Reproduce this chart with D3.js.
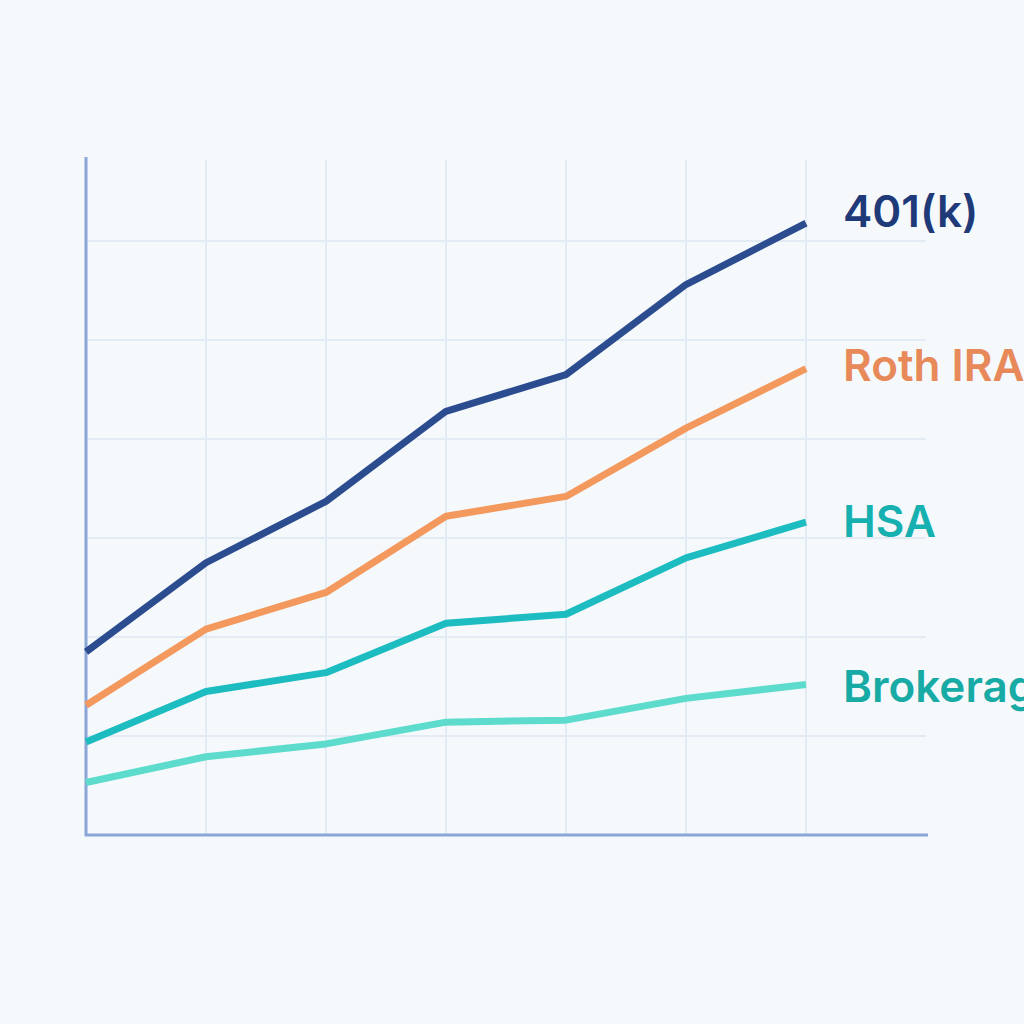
<!DOCTYPE html>
<html><head><meta charset="utf-8">
<script src="https://cdn.jsdelivr.net/npm/d3@7"></script>
<style>body{margin:0;background:#f5f9fc;overflow:hidden}</style>
</head><body><svg id="c" width="1024" height="1024"></svg>
<script>
const periods = [0, 1, 2, 3, 4, 5, 6];
const names = ["401(k)", "Roth IRA", "HSA", "Brokerage"];
const v401k = [1.85, 2.75, 3.37, 4.28, 4.65, 5.56, 6.18];
const vRoth = [1.31, 2.08, 2.45, 3.22, 3.42, 4.11, 4.71];
const vHsa = [0.94, 1.45, 1.64, 2.14, 2.23, 2.80, 3.16];
const vBrok = [0.53, 0.79, 0.92, 1.14, 1.16, 1.38, 1.52];
const yTicks = [1, 2, 3, 4, 5, 6];
const labelShift = [-8, 0, 3, 5];

const lineColors = ["#2b4d8f", "#f4995e", "#1cbcc0", "#5ddccd"];
const textColors = ["#1f3a78", "#e8895a", "#17b0b0", "#18aaa5"];
const series = [v401k, vRoth, vHsa, vBrok];

const svg = d3.select("#c");
const x = d3.scaleLinear().domain([0, 6]).range([86, 806]);
const y = d3.scaleLinear().domain([0, 7]).range([835, 142]);

// grid
svg.append("g").selectAll("line").data(periods.slice(1)).join("line")
  .attr("x1", d => x(d)).attr("x2", d => x(d))
  .attr("y1", 160).attr("y2", 835)
  .attr("stroke", "#e3ebf4").attr("stroke-width", 2);
svg.append("g").selectAll("line").data(yTicks).join("line")
  .attr("x1", 86).attr("x2", 926)
  .attr("y1", d => y(d)).attr("y2", d => y(d))
  .attr("stroke", "#e3ebf4").attr("stroke-width", 2);

// axes
svg.append("line").attr("x1", 86).attr("x2", 86).attr("y1", 157).attr("y2", 836)
  .attr("stroke", "#8aa6d6").attr("stroke-width", 3);
svg.append("line").attr("x1", 85).attr("x2", 928).attr("y1", 835).attr("y2", 835)
  .attr("stroke", "#8aa6d6").attr("stroke-width", 3);

const line = d3.line().x((d, i) => x(periods[i])).y(d => y(d));
series.forEach((s, k) => {
  svg.append("path").datum(s).attr("d", line)
    .attr("fill", "none").attr("stroke", lineColors[k])
    .attr("stroke-width", 7).attr("stroke-linejoin", "round");
  svg.append("text").attr("x", 843).attr("y", y(s[6]) + labelShift[k])
    .attr("dominant-baseline", "middle")
    .attr("font-family", "Inter, 'Noto Sans', sans-serif")
    .attr("font-size", 44).attr("font-weight", 600)
    .attr("fill", textColors[k]).text(names[k]);
});
</script></body></html>
